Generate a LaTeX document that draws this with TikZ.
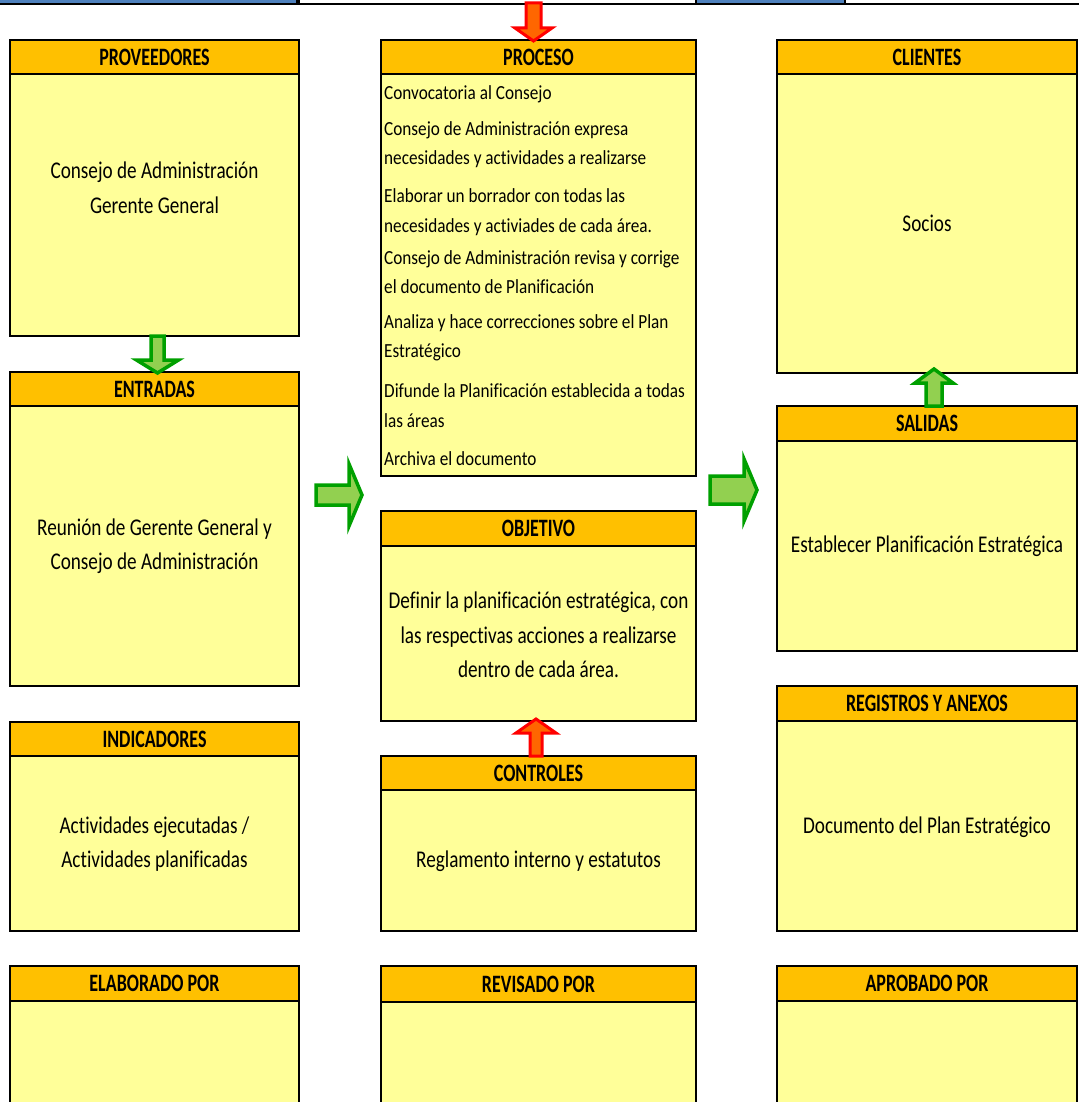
\documentclass[tikz,border=0pt]{standalone}
\usepackage{fontspec}
\setmainfont{Carlito}[Ligatures=NoCommon]
\newfontfamily\hdrfont{Carlito}[FakeStretch=0.72, Ligatures=NoCommon]
\newfontfamily\bigfont{Carlito}[FakeStretch=0.80, Ligatures=NoCommon]
\newfontfamily\listfont{Carlito}[FakeStretch=0.86, Ligatures=NoCommon]
\usetikzlibrary{calc}
\definecolor{hdrorange}{HTML}{FFC000}
\definecolor{bodyyellow}{HTML}{FFFF99}
\definecolor{stripblue}{HTML}{4F81BD}
\definecolor{arrowgreen}{HTML}{92D050}
\definecolor{arrowgreenline}{HTML}{00A000}
\definecolor{arroworange}{HTML}{FF6600}

\tikzset{
  hdr/.style={draw=black, line width=2pt, fill=hdrorange, anchor=north west,
    inner sep=0pt, outer sep=0pt, font=\hdrfont\bfseries\fontsize{25}{30}\selectfont},
  body/.style={draw=black, line width=2pt, fill=bodyyellow, anchor=north west,
    inner sep=0pt, outer sep=0pt},
  stripcell/.style={draw=black, line width=2pt, anchor=south west, inner sep=0pt, outer sep=0pt},
  bigtext/.style={align=center, font=\bigfont\fontsize{24}{34.5}\selectfont, inner sep=0pt},
  listline/.style={anchor=base west, font=\listfont\fontsize{20}{24}\selectfont, inner sep=0pt},
  greenarrow/.style={fill=arrowgreen, draw=arrowgreenline, line width=3.5pt, line join=miter},
  redarrow/.style={fill=arroworange, draw=red, line width=3pt, line join=miter},
}

% block arrow: style, start, tip, shaft half width, head half width, head length
\newcommand\blockarrow[6]{%
  \coordinate (ba-h) at ($(#3)!#6!(#2)$);
  \draw[#1] ($(#2)!#4!90:(#3)$) -- ($(ba-h)!#4!90:(#3)$) -- ($(ba-h)!#5!90:(#3)$)
    -- (#3) -- ($(ba-h)!#5!-90:(#3)$) -- ($(ba-h)!#4!-90:(#3)$)
    -- ($(#2)!#4!-90:(#3)$) -- cycle;
}

\begin{document}
\begin{tikzpicture}[x=1pt,y=-1pt]
\useasboundingbox (0,0) rectangle (1078,1102);
\fill[white] (0,0) rectangle (1078,1102);

% top strip of the sheet
\node[stripcell, fill=stripblue, minimum width=299pt, minimum height=16pt] (stripA) at (-2,4) {};
\node[stripcell, fill=white, minimum width=397pt, minimum height=16pt] (stripB) at (299,4) {};
\node[stripcell, fill=stripblue, minimum width=149pt, minimum height=16pt] (stripC) at (696,4) {};
\node[stripcell, fill=white, minimum width=240pt, minimum height=16pt] (stripD) at (845,4) {};

% left column
\node[hdr, minimum width=289pt, minimum height=34pt] (provh) at (10,40) {PROVEEDORES};
\node[body, minimum width=289pt, minimum height=262pt] (provb) at (provh.south west) {};
\node[hdr, minimum width=289pt, minimum height=34pt] (entrh) at (10,372) {ENTRADAS};
\node[body, minimum width=289pt, minimum height=280pt] (entrb) at (entrh.south west) {};
\node[hdr, minimum width=289pt, minimum height=34pt] (indh) at (10,722) {INDICADORES};
\node[body, minimum width=289pt, minimum height=175pt] (indb) at (indh.south west) {};
\node[hdr, minimum width=289pt, minimum height=35pt] (elabh) at (10,966) {ELABORADO POR};
\node[body, minimum width=289pt, minimum height=160pt] (elabb) at (elabh.south west) {};

% middle column
\node[hdr, minimum width=315pt, minimum height=34pt] (proch) at (381,40) {PROCESO};
\node[body, minimum width=315pt, minimum height=402pt] (procb) at (proch.south west) {};
\node[hdr, minimum width=315pt, minimum height=35pt] (objh) at (381,511) {OBJETIVO};
\node[body, minimum width=315pt, minimum height=175pt] (objb) at (objh.south west) {};
\node[hdr, minimum width=315pt, minimum height=34pt] (conth) at (381,756) {CONTROLES};
\node[body, minimum width=315pt, minimum height=141pt] (contb) at (conth.south west) {};
\node[hdr, minimum width=315pt, minimum height=36pt] (revh) at (381,966) {REVISADO POR};
\node[body, minimum width=315pt, minimum height=160pt] (revb) at (revh.south west) {};

% right column
\node[hdr, minimum width=300pt, minimum height=34pt] (clih) at (777,40) {CLIENTES};
\node[body, minimum width=300pt, minimum height=299pt] (clib) at (clih.south west) {};
\node[hdr, minimum width=300pt, minimum height=35pt] (salh) at (777,406) {SALIDAS};
\node[body, minimum width=300pt, minimum height=210pt] (salb) at (salh.south west) {};
\node[hdr, minimum width=300pt, minimum height=35pt] (regh) at (777,686) {REGISTROS Y ANEXOS};
\node[body, minimum width=300pt, minimum height=210pt] (regb) at (regh.south west) {};
\node[hdr, minimum width=300pt, minimum height=35pt] (aproh) at (777,966) {APROBADO POR};
\node[body, minimum width=300pt, minimum height=160pt] (aprob) at (aproh.south west) {};

% box contents
\node[bigtext] (provt) at (154.5,188) {Consejo de Administración\\Gerente General};
\node[bigtext] (entrt) at (154.5,546) {Reunión de Gerente General y\\Consejo de Administración};
\node[bigtext] (indt) at (154.5,844) {Actividades ejecutadas /\\Actividades planificadas};
\node[bigtext] (objt) at (538.5,635) {Definir la planificación estratégica, con\\las respectivas acciones a realizarse\\dentro de cada área.};
\node[bigtext] (contt) at (538.5,861) {Reglamento interno y estatutos};
\node[bigtext] (clit) at (927,223) {Socios};
\node[bigtext] (salt) at (927,546) {Establecer Planificación Estratégica};
\node[bigtext] (regt) at (927,827) {Documento del Plan Estratégico};

% process steps
\node[listline] (p1) at (384,100) {Convocatoria al Consejo};
\node[listline] (p2a) at (384,136) {Consejo de Administración expresa};
\node[listline] (p2b) at (384,165) {necesidades y actividades a realizarse};
\node[listline] (p3a) at (384,203) {Elaborar un borrador con todas las};
\node[listline] (p3b) at (384,232) {necesidades y activiades de cada área.};
\node[listline] (p4a) at (384,264) {Consejo de Administración revisa y corrige};
\node[listline] (p4b) at (384,293) {el documento de Planificación};
\node[listline] (p5a) at (384,328) {Analiza y hace correcciones sobre el Plan};
\node[listline] (p5b) at (384,357) {Estratégico};
\node[listline] (p6a) at (384,397) {Difunde la Planificación establecida a todas};
\node[listline] (p6b) at (384,427) {las áreas};
\node[listline] (p7) at (384,465) {Archiva el documento};

% block arrows
\coordinate (rd-s) at (533.5,3);
\coordinate (rd-t) at ($(proch.north)+(-5,1)$);
\blockarrow{redarrow}{rd-s}{rd-t}{7.5pt}{18.5pt}{13pt}

\coordinate (ru-s) at ($(conth.north)+(-2.5,0)$);
\coordinate (ru-t) at ($(objb.south)+(-2.5,-2)$);
\blockarrow{redarrow}{ru-s}{ru-t}{6pt}{20pt}{14pt}

\coordinate (gd-s) at ($(provb.south)+(3,0)$);
\coordinate (gd-t) at ($(entrh.north)+(3,1)$);
\blockarrow{greenarrow}{gd-s}{gd-t}{6.5pt}{21pt}{13pt}

\coordinate (gu-s) at ($(salh.north)+(7,0)$);
\coordinate (gu-t) at ($(clib.south)+(7,-4)$);
\blockarrow{greenarrow}{gu-s}{gu-t}{8pt}{19pt}{14pt}

\coordinate (gl-s) at (316,495);
\coordinate (gl-t) at (362,495);
\blockarrow{greenarrow}{gl-s}{gl-t}{10pt}{31pt}{13pt}

\coordinate (gr-s) at (710,490);
\coordinate (gr-t) at (757,490);
\blockarrow{greenarrow}{gr-s}{gr-t}{14pt}{31pt}{13pt}
\end{tikzpicture}
\end{document}
